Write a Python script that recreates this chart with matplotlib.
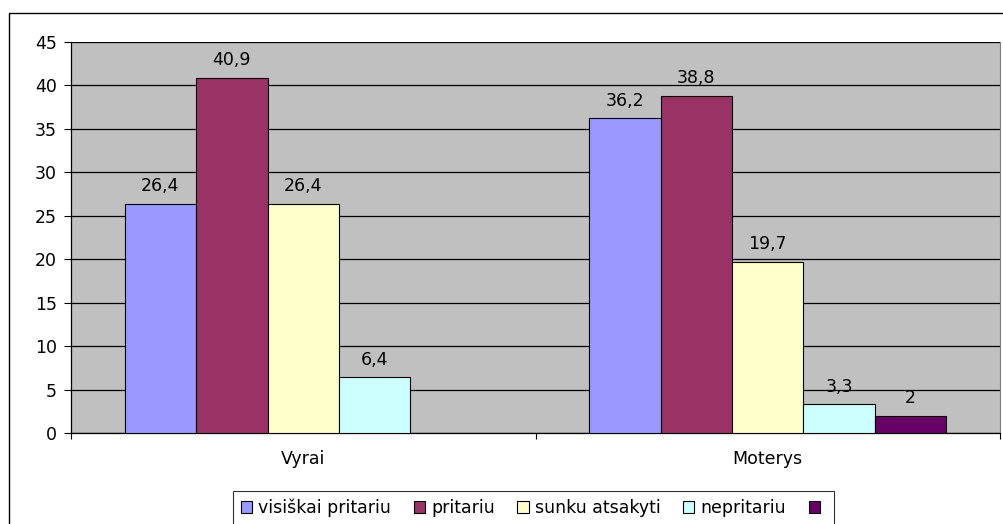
import matplotlib
matplotlib.use("Agg")
import matplotlib.pyplot as plt
from matplotlib.patches import Rectangle, Patch
import numpy as np

plt.rcParams['font.family'] = ['DejaVu Sans']
FS = 12.5

categories = ["Vyrai", "Moterys"]
series_names = ["visiškai pritariu", "pritariu", "sunku atsakyti", "nepritariu", ""]
colors = ["#9999FF", "#993366", "#FFFFCC", "#CCFFFF", "#660066"]
values = [
    [26.4, 36.2],
    [40.9, 38.8],
    [26.4, 19.7],
    [6.4, 3.3],
    [np.nan, 2.0],
]
yticks = [0, 5, 10, 15, 20, 25, 30, 35, 40, 45]

fig = plt.figure(figsize=(10.04, 5.24), dpi=100)
ax = fig.add_axes([71/1004, 1-433/524, 929/1004, (433-42)/524])
ax.set_facecolor("#C0C0C0")

nser = len(series_names)
bw = 1.0 / (nser + 1.5)
centers = np.arange(len(categories)) + 0.5
handles = []
for i, (name, vals, col) in enumerate(zip(series_names, values, colors)):
    xs = centers - (nser * bw) / 2 + bw * (i + 0.5)
    v = np.array(vals, dtype=float)
    mask = ~np.isnan(v)
    ax.bar(xs[mask], v[mask], width=bw, color=col, edgecolor="black", linewidth=0.8, zorder=3)
    for x, val in zip(xs[mask], v[mask]):
        txt = f"{val:g}".replace(".", ",")
        ax.text(x, val + 1.0, txt, ha="center", va="bottom", fontsize=FS, zorder=4)
    handles.append(Patch(facecolor=col, edgecolor="black", linewidth=0.8))

ax.set_xlim(0, len(categories))
ax.set_ylim(0, 45)
ax.set_yticks(yticks)
ax.set_yticklabels([str(t) for t in yticks], fontsize=FS)
ax.yaxis.grid(True, color="black", linewidth=0.9, zorder=1)
ax.set_axisbelow(True)
ax.set_xticks(np.arange(len(categories) + 1))
ax.set_xticklabels([])
ax.set_xticks(centers, minor=True)
ax.set_xticklabels(categories, minor=True, fontsize=FS)
ax.tick_params(axis="x", which="minor", length=0, pad=12)
ax.tick_params(axis="x", which="major", length=4, direction="out", width=0.8)
ax.tick_params(axis="y", length=5, direction="out", width=0.8, pad=5)
for s in ["left", "bottom"]:
    ax.spines[s].set_color("black")
    ax.spines[s].set_linewidth(0.9)
ax.spines["top"].set_visible(False)
ax.spines["right"].set_color("#808080")

leg = fig.legend(handles, series_names, loc="upper left",
                 bbox_to_anchor=(233/1004, 1 - 491/524), ncol=5, fontsize=FS,
                 frameon=True, fancybox=False, edgecolor="black",
                 handlelength=0.65, handleheight=0.65, handletextpad=0.35,
                 columnspacing=1.3, borderpad=0.45, borderaxespad=0)
leg.get_frame().set_linewidth(0.8)

fig.patches.append(Rectangle((9/1004, -0.05), 1.1, 1 - 13/524 + 0.05,
                             transform=fig.transFigure, fill=False,
                             edgecolor="black", linewidth=1.0))

fig.savefig("out.png", dpi=100)
